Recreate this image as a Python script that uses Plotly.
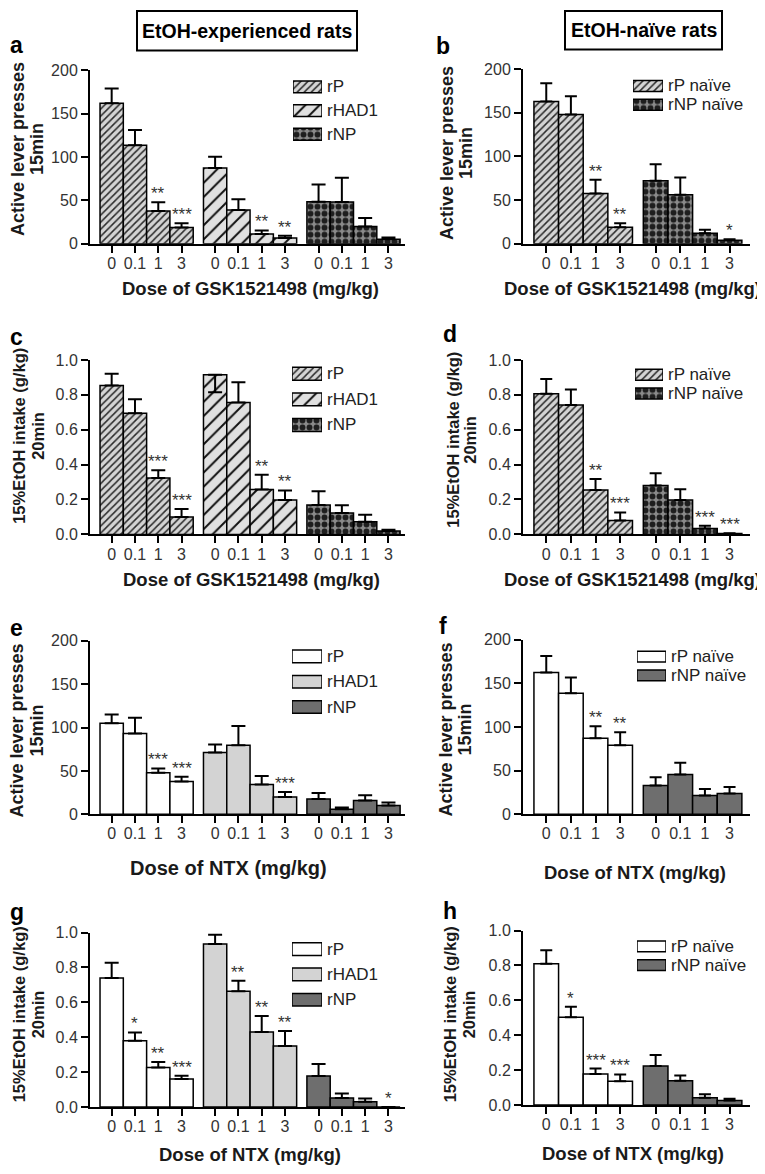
import plotly.graph_objects as go

W, H = 765, 1174
OFF = 8  # the page body margin shifts the figure by this many pixels
FONT = "Liberation Sans, Arial, Helvetica, sans-serif"

doses = ["0", "0.1", "1", "3"]

# ---- a: GSK1521498, EtOH-experienced, active lever presses ----
a_rP = [162, 113.5, 37.6, 18.6]
a_rP_err = [17, 17.5, 10, 5]
a_rP_stars = ["", "", "**", "***"]
a_rHAD1 = [87.3, 38.7, 11, 6.5]
a_rHAD1_err = [13, 12.5, 4.2, 2.6]
a_rHAD1_stars = ["", "", "**", "**"]
a_rNP = [48.2, 48, 19.7, 5]
a_rNP_err = [20, 28, 10, 2]
a_rNP_stars = ["", "", "", ""]

# ---- b: GSK1521498, EtOH-naive, active lever presses ----
b_rP = [163, 148, 57.4, 18.9]
b_rP_err = [21, 21, 16, 4.5]
b_rP_stars = ["", "", "**", "**"]
b_rNP = [72, 56.2, 12, 4]
b_rNP_err = [19, 19.6, 4, 1]
b_rNP_stars = ["", "", "", "*"]

# ---- c: GSK1521498, EtOH-experienced, EtOH intake ----
c_rP = [0.853, 0.695, 0.323, 0.10]
c_rP_err = [0.068, 0.080, 0.044, 0.045]
c_rP_stars = ["", "", "***", "***"]
c_rHAD1 = [0.915, 0.756, 0.257, 0.197]
c_rHAD1_err = [0.0, 0.116, 0.085, 0.055]
c_rHAD1_err_down = [0.10, 0.0, 0.0, 0.0]
c_rHAD1_stars = ["", "", "**", "**"]
c_rNP = [0.169, 0.122, 0.073, 0.02]
c_rNP_err = [0.079, 0.045, 0.04, 0.006]
c_rNP_stars = ["", "", "", ""]

# ---- d: GSK1521498, EtOH-naive, EtOH intake ----
d_rP = [0.806, 0.742, 0.254, 0.079]
d_rP_err = [0.085, 0.089, 0.064, 0.047]
d_rP_stars = ["", "", "**", "***"]
d_rNP = [0.28, 0.197, 0.034, 0.005]
d_rNP_err = [0.07, 0.062, 0.015, 0.002]
d_rNP_stars = ["", "", "***", "***"]

# ---- e: NTX, EtOH-experienced, active lever presses ----
e_rP = [104.9, 93.2, 47.9, 37.7]
e_rP_err = [10.1, 18.1, 4.9, 5.7]
e_rP_stars = ["", "", "***", "***"]
e_rHAD1 = [71.3, 79.6, 34.3, 20]
e_rHAD1_err = [9.1, 22.3, 9.9, 5.7]
e_rHAD1_stars = ["", "", "", "***"]
e_rNP = [17.7, 5.7, 15.8, 10]
e_rNP_err = [6.8, 2.2, 6.1, 3.5]
e_rNP_stars = ["", "", "", ""]

# ---- f: NTX, EtOH-naive, active lever presses ----
f_rP = [162.4, 138.7, 87.2, 79]
f_rP_err = [19.2, 18.1, 13.6, 15]
f_rP_stars = ["", "", "**", "**"]
f_rNP = [33, 45.5, 21.4, 23.7]
f_rNP_err = [9.5, 13.5, 7.6, 7.5]
f_rNP_stars = ["", "", "", ""]

# ---- g: NTX, EtOH-experienced, EtOH intake ----
g_rP = [0.739, 0.38, 0.226, 0.16]
g_rP_err = [0.088, 0.047, 0.032, 0.019]
g_rP_stars = ["", "*", "**", "***"]
g_rHAD1 = [0.934, 0.664, 0.43, 0.35]
g_rHAD1_err = [0.053, 0.06, 0.091, 0.086]
g_rHAD1_stars = ["", "**", "**", "**"]
g_rNP = [0.178, 0.052, 0.03, 0.0]
g_rNP_err = [0.068, 0.025, 0.019, 0.0]
g_rNP_stars = ["", "", "", "*"]

# ---- h: NTX, EtOH-naive, EtOH intake ----
h_rP = [0.81, 0.503, 0.177, 0.136]
h_rP_err = [0.077, 0.06, 0.032, 0.039]
h_rP_stars = ["", "*", "***", "***"]
h_rNP = [0.224, 0.139, 0.041, 0.026]
h_rNP_err = [0.062, 0.03, 0.021, 0.01]
h_rNP_stars = ["", "", "", ""]

presses_ticks = [0, 50, 100, 150, 200]
intake_ticks = [0.0, 0.2, 0.4, 0.6, 0.8, 1.0]

# ------------------------------------------------------------------
STYLES = {
    "hatch_fine": dict(color="#d4d4d4", line=dict(color="black", width=1.5),
                       pattern=dict(shape="/", size=5, solidity=0.3, fgcolor="#2a2a2a",
                                    bgcolor="#d4d4d4", fillmode="replace")),
    "hatch_wide": dict(color="#e0e0e0", line=dict(color="black", width=1.5),
                       pattern=dict(shape="/", size=10, solidity=0.2, fgcolor="#111111",
                                    bgcolor="#e0e0e0", fillmode="replace")),
    "check": dict(color="#8a8a8a", line=dict(color="black", width=1.5),
                  pattern=dict(shape=".", size=7, solidity=0.55, fgcolor="#1e1e1e",
                               bgcolor="#8a8a8a", fillmode="replace")),
    "white": dict(color="white", line=dict(color="black", width=1.5)),
    "light": dict(color="#d3d3d3", line=dict(color="black", width=1.5)),
    "dark": dict(color="#6e6e6e", line=dict(color="black", width=1.5)),
}

GAP = 0.44  # gap between dose groups, in bar widths

def S(name, vals, err, stars, style, err_down=None):
    return dict(name=name, vals=vals, err=err, stars=stars, style=style,
                err_down=err_down if err_down is not None else [0] * len(vals))

GSK = "Dose of GSK1521498 (mg/kg)"
NTX = "Dose of NTX (mg/kg)"
LP = ("Active lever presses", "15min")
EI = ("15%EtOH intake (g/kg)", "20min")

panels = [
    dict(letter="a", col=0, yt=63, yb=239, ymax=200, ticks=presses_ticks, yt_title=LP, yts=18,
         ytx=(18, 37), yty=143, xt=GSK, xtx=250, xty=284, xts=18.5, lt=(0, 37),
         leg=(293, 322, 68, 140, 0.5), legs=17,
         series=[S("rP", a_rP, a_rP_err, a_rP_stars, "hatch_fine"),
                 S("rHAD1", a_rHAD1, a_rHAD1_err, a_rHAD1_stars, "hatch_wide"),
                 S("rNP", a_rNP, a_rNP_err, a_rNP_stars, "check")]),
    dict(letter="b", col=1, yt=62, yb=239, ymax=200, ticks=presses_ticks, yt_title=LP, yts=18,
         ytx=(447, 466), yty=147, xt=GSK, xtx=632, xty=284, xts=18.5, lt=(434, 38),
         leg=(633, 663, 69.5, 107.5, 0.58), legs=17,
         series=[S("rP naïve", b_rP, b_rP_err, b_rP_stars, "hatch_fine"),
                 S("rNP naïve", b_rNP, b_rNP_err, b_rNP_stars, "check")]),
    dict(letter="c", col=0, yt=357, yb=534, ymax=1.0, ticks=intake_ticks, yt_title=EI, yts=16.5,
         ytx=(19, 38), yty=434, xt=GSK, xtx=251, xty=580, xts=18.5, lt=(0, 334),
         leg=(292, 322, 358, 436, 0.5), legs=17,
         series=[S("rP", c_rP, c_rP_err, c_rP_stars, "hatch_fine"),
                 S("rHAD1", c_rHAD1, c_rHAD1_err, c_rHAD1_stars, "hatch_wide", c_rHAD1_err_down),
                 S("rNP", c_rNP, c_rNP_err, c_rNP_stars, "check")]),
    dict(letter="d", col=1, yt=357, yb=534, ymax=1.0, ticks=intake_ticks, yt_title=EI, yts=16.5,
         ytx=(453, 470), yty=438, xt=GSK, xtx=632, xty=580, xts=18.5, lt=(441, 331),
         leg=(635, 663, 362.5, 400.5, 0.58), legs=17,
         series=[S("rP naïve", d_rP, d_rP_err, d_rP_stars, "hatch_fine"),
                 S("rNP naïve", d_rNP, d_rNP_err, d_rNP_stars, "check")]),
    dict(letter="e", col=0, yt=642, yb=818, ymax=200, ticks=presses_ticks, yt_title=LP, yts=18,
         ytx=(17, 37), yty=733, xt=NTX, xtx=229, xty=873, xts=20, lt=(0, 629),
         leg=(292, 322, 645, 722, 0.5), legs=17,
         series=[S("rP", e_rP, e_rP_err, e_rP_stars, "white"),
                 S("rHAD1", e_rHAD1, e_rHAD1_err, e_rHAD1_stars, "light"),
                 S("rNP", e_rNP, e_rNP_err, e_rNP_stars, "dark")]),
    dict(letter="f", col=1, yt=641, yb=818, ymax=200, ticks=presses_ticks, yt_title=LP, yts=18,
         ytx=(446, 465), yty=732, xt=NTX, xtx=635, xty=877, xts=18.5, lt=(437, 627),
         leg=(637, 666, 648.5, 686.5, 0.58), legs=17,
         series=[S("rP naïve", f_rP, f_rP_err, f_rP_stars, "white"),
                 S("rNP naïve", f_rNP, f_rNP_err, f_rNP_stars, "dark")]),
    dict(letter="g", col=0, yt=938, yb=1115, ymax=1.0, ticks=intake_ticks, yt_title=EI, yts=16.5,
         ytx=(19, 38), yty=1021, xt=NTX, xtx=250, xty=1163, xts=18.5, lt=(0, 917),
         leg=(292, 322, 942, 1019, 0.5), legs=17,
         series=[S("rP", g_rP, g_rP_err, g_rP_stars, "white"),
                 S("rHAD1", g_rHAD1, g_rHAD1_err, g_rHAD1_stars, "light"),
                 S("rNP", g_rNP, g_rNP_err, g_rNP_stars, "dark")]),
    dict(letter="h", col=1, yt=936, yb=1113, ymax=1.0, ticks=intake_ticks, yt_title=EI, yts=16.5,
         ytx=(450, 469), yty=1021, xt=NTX, xtx=633, xty=1162, xts=18.5, lt=(441, 916),
         leg=(637, 666, 942.5, 980.5, 0.58), legs=17,
         series=[S("rP naïve", h_rP, h_rP_err, h_rP_stars, "white"),
                 S("rNP naïve", h_rNP, h_rNP_err, h_rNP_stars, "dark")]),
]

COLS = [dict(x0=90, x1=405, lpad=0.43, rpad=0.21, cap=7),
        dict(x0=523, x1=750, lpad=0.444, rpad=0.33, cap=6)]

def fx(p):
    return (p - OFF) / W

def fy(p):
    return 1 - (p - OFF) / H

def ax_names(n):
    if n == 1:
        return "xaxis", "yaxis", "x", "y"
    return f"xaxis{n}", f"yaxis{n}", f"x{n}", f"y{n}"

fig = go.Figure()
layout = {}
annotations = []
nd = len(doses)

for i, p in enumerate(panels):
    n = i + 1
    xa, ya, xr, yr = ax_names(n)
    col = COLS[p["col"]]
    centers, labels = [], []
    for g, s in enumerate(p["series"]):
        xs = [g * (nd + GAP) + j for j in range(nd)]
        centers += xs
        labels += doses
        fig.add_trace(go.Bar(
            x=xs, y=s["vals"], width=1, name=s["name"], xaxis=xr, yaxis=yr,
            marker=STYLES[s["style"]], showlegend=False,
            error_y=dict(type="data", symmetric=False, array=s["err"],
                         arrayminus=s["err_down"], color="black",
                         thickness=2, width=col["cap"]),
        ))
        for x, v, e, st in zip(xs, s["vals"], s["err"], s["stars"]):
            if st:
                annotations.append(dict(x=x, y=v + e, xref=xr, yref=yr, text=st,
                                        showarrow=False, xanchor="center", yanchor="bottom",
                                        yshift=-3,
                                        font=dict(family=FONT, size=17, color="#333")))
    npg = len(p["series"])
    right = (npg - 1) * (nd + GAP) + nd - 1 + 0.5 + col["rpad"]
    layout[xa] = dict(domain=[fx(col["x0"]), fx(col["x1"])], range=[-0.5 - col["lpad"], right],
                      anchor=yr, tickvals=centers, ticktext=labels, showline=True,
                      linecolor="black", linewidth=2, ticks="outside", ticklen=7,
                      tickwidth=1.5, tickcolor="black", showgrid=False, zeroline=False,
                      ticklabelstandoff=-3,
                      tickfont=dict(family=FONT, size=16, color="#333"))
    ydict = dict(domain=[fy(p["yb"]), fy(p["yt"])], range=[0, p["ymax"]], anchor=xr,
                 tickvals=p["ticks"], showline=True, linecolor="black", linewidth=2,
                 ticks="outside", ticklen=7, tickwidth=1.5, tickcolor="black",
                 showgrid=False, zeroline=False,
                 tickfont=dict(family=FONT, size=16, color="#333"))
    if p["ymax"] == 1.0:
        ydict["tickformat"] = ".1f"
    layout[ya] = ydict

    # y-axis title (two lines)
    for txt, xc in zip(p["yt_title"], p["ytx"]):
        annotations.append(dict(x=fx(xc), y=fy(p["yty"]), xref="paper", yref="paper",
                                text=f"<b>{txt}</b>", textangle=-90, showarrow=False,
                                xanchor="center", yanchor="middle",
                                font=dict(family=FONT, size=p["yts"], color="#1a1a1a")))
    # x-axis title
    annotations.append(dict(x=fx(p["xtx"]), y=fy(p["xty"]), xref="paper", yref="paper",
                            text=f"<b>{p['xt']}</b>", showarrow=False, xanchor="center",
                            yanchor="middle", font=dict(family=FONT, size=p["xts"], color="#1a1a1a")))
    # panel letter
    annotations.append(dict(x=fx(p["lt"][0] + OFF if p["col"] == 0 else p["lt"][0]),
                            y=fy(p["lt"][1]), xref="paper", yref="paper",
                            text=f"<b>{p['letter']}</b>", showarrow=False, xanchor="left",
                            yanchor="middle", font=dict(family=FONT, size=23, color="black")))

    # legend keys on their own small axes
    lx0, lx1, ly0, ly1, thick = p["leg"]
    m = n + len(panels)
    lxa, lya, lxr, lyr = ax_names(m)
    layout[lxa] = dict(domain=[fx(lx0), fx(lx1)], range=[0, 1], visible=False, anchor=lyr,
                       fixedrange=True)
    layout[lya] = dict(domain=[fy(ly1), fy(ly0)], range=[npg - 0.5, -0.5], visible=False,
                       anchor=lxr, fixedrange=True)
    for k, s in enumerate(p["series"]):
        fig.add_trace(go.Bar(x=[1], y=[k], orientation="h", width=thick, xaxis=lxr, yaxis=lyr,
                             marker=STYLES[s["style"]], showlegend=False, hoverinfo="skip"))
        annotations.append(dict(x=1, y=k, xref=lxr, yref=lyr, text=s["name"], showarrow=False,
                                xanchor="left", yanchor="middle", xshift=3,
                                font=dict(family=FONT, size=p["legs"], color="#222")))

# column headers
shapes = [
    dict(type="rect", xref="paper", yref="paper", x0=fx(137), x1=fx(357), y0=fy(43), y1=fy(3),
         line=dict(color="black", width=2), fillcolor="rgba(0,0,0,0)"),
    dict(type="rect", xref="paper", yref="paper", x0=fx(565), x1=fx(722), y0=fy(42), y1=fy(3),
         line=dict(color="black", width=2), fillcolor="rgba(0,0,0,0)"),
]
annotations.append(dict(x=fx(247), y=fy(23), xref="paper", yref="paper",
                        text="<b>EtOH-experienced rats</b>", showarrow=False,
                        xanchor="center", yanchor="middle",
                        font=dict(family=FONT, size=19.5, color="black")))
annotations.append(dict(x=fx(643.5), y=fy(22.5), xref="paper", yref="paper",
                        text="<b>EtOH-naïve rats</b>", showarrow=False,
                        xanchor="center", yanchor="middle",
                        font=dict(family=FONT, size=19.5, color="black")))

fig.update_layout(
    width=W, height=H, margin=dict(l=0, r=0, t=0, b=0),
    paper_bgcolor="white", plot_bgcolor="white", barmode="overlay",
    showlegend=False, annotations=annotations, shapes=shapes,
    font=dict(family=FONT), **layout,
)

fig.write_html("out.html")
